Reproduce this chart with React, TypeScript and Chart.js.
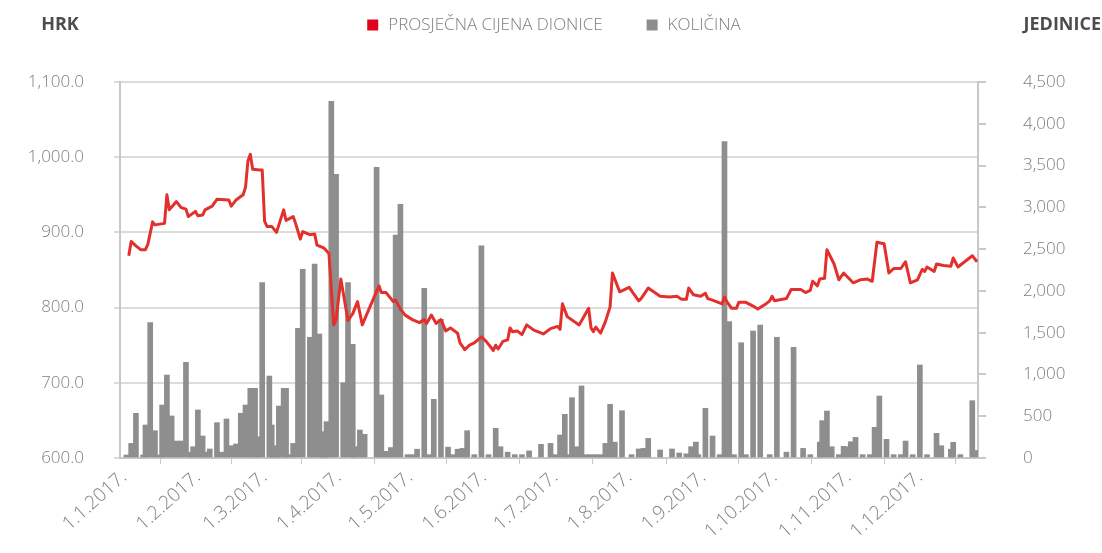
import { useEffect, useRef } from 'react';
import { Chart, registerables } from 'chart.js';

Chart.register(...registerables);

// Day-of-year (1 Jan = 0) of the first day of each month, and their labels
const monthStartDays = [0, 31, 59, 90, 120, 151, 181, 212, 243, 273, 304, 334];
const monthTickLabels = [
  '1.1.2017.', '1.2.2017.', '1.3.2017.', '1.4.2017.', '1.5.2017.', '1.6.2017.',
  '1.7.2017.', '1.8.2017.', '1.9.2017.', '1.10.2017.', '1.11.2017.', '1.12.2017.',
];

const priceLabel = 'PROSJEČNA CIJENA DIONICE';
const volumeLabel = 'KOLIČINA';
const leftAxisTitle = 'HRK';
const rightAxisTitle = 'JEDINICE';

// Average share price (HRK) – day of year
const priceDays = [
  2, 3, 5, 7, 9, 10, 12, 13, 17, 18, 19, 22, 24, 26, 27, 30, 31, 33, 34, 37, 39, 44, 45, 47, 50,
  51, 52, 53, 54, 57, 58, 59, 60, 62, 64, 67, 68, 71, 72, 74, 75, 78, 80, 81, 84, 86, 88, 89, 91,
  94, 96, 98, 100, 102, 107, 108, 110, 113, 114, 116, 118, 121, 124, 126, 127, 129, 131, 133,
  135, 137, 140, 141, 143, 145, 147, 150, 152, 155, 156, 157, 159, 161, 162, 163, 165, 167, 169,
  172, 176, 179, 182, 183, 184, 186, 191, 195, 196, 197, 198, 200, 202, 204, 205, 208, 212, 216,
  217, 220, 225, 229, 232, 234, 236, 237, 239, 242, 244, 245, 247, 251, 252, 253, 255, 257, 258,
  261, 264, 266, 269, 271, 272, 273, 278, 280, 284, 286, 288, 289, 291, 292, 294, 295, 298, 300,
  302, 306, 309, 312, 314, 316, 319, 321, 323, 326, 328, 330, 333, 335, 336, 337, 340, 341, 344,
  347, 348, 350, 356, 358,
];
const priceValues = [
  869, 888, 882, 877, 877, 884, 914, 910, 912, 950, 930, 941, 933, 931, 921, 928, 922, 923, 930,
  935, 944, 943, 935, 943, 950, 960, 995, 1004, 984, 983, 983, 915, 908, 908, 900, 930, 916, 921,
  912, 891, 901, 897, 898, 883, 879, 872, 777, 784, 838, 783, 792, 808, 777, 792, 829, 820, 820,
  808, 810, 798, 790, 784, 780, 784, 779, 790, 779, 784, 769, 773, 766, 753, 744, 750, 753, 761,
  755, 743, 750, 745, 755, 757, 773, 768, 769, 764, 777, 770, 765, 772, 775, 771, 805, 788, 777,
  799, 773, 768, 774, 766, 781, 801, 846, 821, 827, 809, 812, 826, 815, 814, 815, 811, 811, 826,
  817, 815, 819, 812, 810, 805, 814, 808, 799, 799, 807, 807, 802, 798, 804, 809, 815, 809, 812,
  824, 824, 820, 823, 835, 829, 838, 839, 877, 858, 837, 846, 833, 837, 838, 835, 887, 885, 846,
  852, 852, 861, 833, 837, 851, 848, 854, 848, 858, 856, 855, 866, 854, 869, 861,
];

// Traded quantity (units) – day of year
const volumeDays = [
  1, 3, 5, 8, 9, 11, 13, 15, 16, 18, 20, 22, 24, 26, 28, 29, 31, 33, 34, 36, 39, 41, 43, 45, 47,
  49, 51, 53, 55, 56, 58, 61, 62, 63, 64, 65, 67, 68, 69, 71, 73, 75, 78, 80, 82, 83, 84, 85, 87,
  89, 92, 94, 96, 97, 99, 101, 106, 108, 110, 112, 114, 116, 119, 121, 123, 126, 128, 130, 133,
  136, 138, 140, 142, 144, 147, 150, 153, 156, 158, 161, 164, 167, 170, 175, 179, 181, 183, 185,
  186, 188, 190, 192, 194, 196, 198, 200, 202, 204, 206, 209, 213, 216, 218, 220, 225, 230, 233,
  236, 238, 240, 241, 244, 247, 250, 252, 254, 256, 259, 261, 264, 267, 271, 274, 278, 281, 285,
  288, 292, 293, 295, 297, 300, 302, 303, 305, 307, 310, 313, 315, 317, 320, 323, 326, 328, 331,
  334, 337, 341, 343, 347, 348, 351, 356, 358,
];
const volumeValues = [
  36, 175, 535, 36, 395, 1620, 327, 36, 634, 993, 503, 203, 203, 1145, 70, 135, 575, 263, 70,
  108, 423, 70, 467, 147, 168, 535, 634, 834, 834, 255, 2099, 981, 395, 70, 147, 622, 834, 834,
  40, 175, 1552, 2259, 1445, 2322, 1484, 105, 315, 435, 4270, 3396, 901, 2099, 1361, 135, 335,
  283, 3479, 754, 80, 125, 2669, 3037, 40, 40, 105, 2031, 40, 702, 1660, 130, 40, 105, 115, 327,
  40, 2538, 40, 355, 135, 70, 40, 40, 85, 164, 175, 40, 275, 523, 40, 722, 135, 862, 40, 40, 40,
  40, 175, 643, 190, 566, 40, 108, 115, 235, 96, 108, 60, 50, 135, 190, 40, 595, 263, 40, 3786,
  1632, 40, 1380, 40, 1520, 1592, 40, 1445, 70, 1325, 115, 40, 190, 447, 562, 135, 40, 140, 135,
  195, 247, 40, 40, 367, 742, 223, 40, 40, 203, 40, 1113, 40, 295, 147, 105, 188, 40, 686, 90,
];

const RED_LINE = '#e2302c';
const RED_BOX = '#e2001a';
const GREY_BAR = '#8e8e8e';
const TEXT = '#7f7f7f';
const AXIS = '#c8c8c8';
const FONT = '"Open Sans", "Noto Sans", sans-serif';

const headerPlugin = {
  id: 'headerAndLegend',
  afterDraw(chart: any) {
    const { ctx, chartArea } = chart;
    ctx.save();
    ctx.textBaseline = 'middle';
    ctx.fillStyle = '#4d4d4d';
    ctx.font = `bold 18px ${FONT}`;
    ctx.textAlign = 'center';
    ctx.fillText(leftAxisTitle, chartArea.left - 60, 25);
    ctx.textAlign = 'right';
    ctx.fillText(rightAxisTitle, chart.width - 1, 25);

    // legend
    ctx.font = `300 17px ${FONT}`;
    ctx.textAlign = 'left';
    const items = chart.data.datasets.map((ds: any) => ({
      text: ds.label as string,
      color: ds.type === 'line' ? RED_BOX : (ds.backgroundColor as string),
    }));
    const box = 11;
    const gap = 10;
    const itemGap = 44;
    const widths = items.map((it: any) => box + gap + ctx.measureText(it.text).width);
    const total = widths.reduce((a: number, b: number) => a + b, 0) + itemGap * (items.length - 1);
    let x = chart.width / 2 + 3 - total / 2;
    items.forEach((it: any, i: number) => {
      ctx.fillStyle = it.color;
      ctx.fillRect(x, 25 - box / 2, box, box);
      ctx.fillStyle = TEXT;
      ctx.fillText(it.text, x + box + gap, 25);
      x += widths[i] + itemGap;
    });
    ctx.restore();
  },
};

export default function App() {
  const ref = useRef<HTMLCanvasElement>(null);

  useEffect(() => {
    document.body.style.margin = '0';
    const canvas = ref.current;
    if (!canvas) return;
    const tickFont = { family: FONT, size: 17, weight: '300' as any };
    const chart = new Chart(canvas, {
      type: 'bar',
      data: {
        datasets: [
          {
            type: 'line',
            label: priceLabel,
            data: priceDays.map((d, i) => ({ x: d, y: priceValues[i] })),
            borderColor: RED_LINE,
            backgroundColor: RED_BOX,
            borderWidth: 3,
            pointRadius: 0,
            tension: 0,
            borderJoinStyle: 'round',
            yAxisID: 'y',
            order: 0,
          } as any,
          {
            type: 'bar',
            label: volumeLabel,
            data: volumeDays.map((d, i) => ({ x: d, y: volumeValues[i] })),
            backgroundColor: GREY_BAR,
            barThickness: 5,
            yAxisID: 'y1',
            order: 1,
          } as any,
        ],
      },
      options: {
        responsive: false,
        animation: false,
        devicePixelRatio: 1,
        layout: { padding: { top: 82, left: 0, right: 0, bottom: 0 } },
        plugins: {
          legend: { display: false },
          tooltip: { enabled: false },
        },
        scales: {
          x: {
            type: 'linear',
            min: -1.68,
            max: 358.4,
            offset: false,
            afterBuildTicks: (s: any) => {
              s.ticks = monthStartDays.map((v) => ({ value: v }));
            },
            afterFit: (s: any) => {
              s.height = 95;
            },
            ticks: {
              autoSkip: false,
              minRotation: 42,
              maxRotation: 42,
              padding: 2,
              color: TEXT,
              font: { family: FONT, size: 19, weight: '300' as any },
              callback: (_v: any, i: number) => monthTickLabels[i],
            },
            grid: { drawOnChartArea: false, drawTicks: true, tickLength: 6, color: AXIS },
            border: { display: true, color: AXIS, width: 2 },
          },
          y: {
            position: 'left',
            min: 600,
            max: 1100,
            afterFit: (s: any) => {
              s.width = 120;
            },
            ticks: {
              stepSize: 100,
              padding: 30,
              color: TEXT,
              font: tickFont,
              callback: (v: any) =>
                Number(v).toLocaleString('en-US', { minimumFractionDigits: 1, maximumFractionDigits: 1 }),
            },
            grid: { color: '#dcdcdc', lineWidth: 2, tickLength: 6 },
            border: { display: true, color: AXIS, width: 2 },
          },
          y1: {
            position: 'right',
            min: 0,
            max: 4500,
            afterFit: (s: any) => {
              s.width = 124;
            },
            ticks: {
              stepSize: 500,
              padding: 37,
              color: TEXT,
              font: tickFont,
              callback: (v: any) => Number(v).toLocaleString('en-US'),
            },
            grid: { drawOnChartArea: false, color: AXIS, lineWidth: 2, tickLength: 8 },
            border: { display: true, color: AXIS, width: 2 },
          },
        },
      },
      plugins: [headerPlugin],
    });
    return () => chart.destroy();
  }, []);

  return <canvas ref={ref} width={1102} height={553} style={{ display: 'block' }} />;
}
